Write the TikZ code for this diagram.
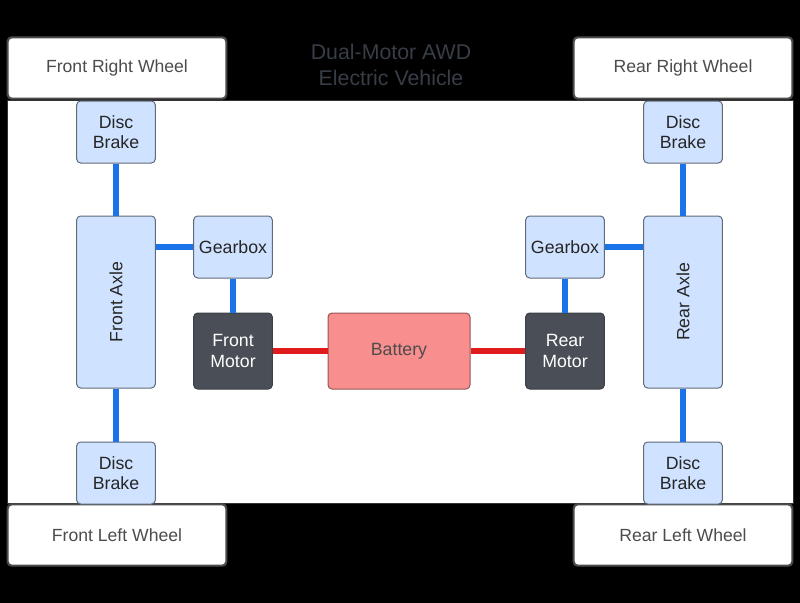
\documentclass[tikz,border=0pt]{standalone}
\usepackage{fontspec}
\setmainfont{Liberation Sans}
\usepackage{graphicx}
\definecolor{partfill}{HTML}{CFE2FF}
\definecolor{partline}{HTML}{5F6B7A}
\definecolor{motorfill}{HTML}{4A4F57}
\definecolor{battfill}{HTML}{F88E8E}
\definecolor{shaftblue}{HTML}{1A73E8}
\definecolor{wirered}{HTML}{E01B1B}
\definecolor{titlegray}{HTML}{383D46}
\begin{document}
\begin{tikzpicture}[x=0.75pt, y=-0.75pt,
        part/.style={draw=partline, fill=partfill, rounded corners=3pt, line width=0.75pt,
            minimum width=59pt, minimum height=46.5pt, align=center, font=\fontsize{13.3}{15.5}\selectfont, text=black!85},
        axle/.style={part, minimum height=129pt},
        motor/.style={part, fill=motorfill, draw=motorfill!80!black, text=white, minimum height=57pt},
        wheel/.style={draw=gray!60!black, fill=white, rounded corners=3pt, line width=1.6pt,
            minimum width=164pt, minimum height=46pt, font=\fontsize{13.2}{15}\selectfont, text=black!70},
        shaft/.style={shaftblue, line width=4.5pt},
        wire/.style={wirered, line width=4.5pt}]
        \useasboundingbox (0,0) rectangle (800,603);
        \fill[black] (0,0) rectangle (800,603);
        
        % chassis
        \draw[fill=white, draw=black!80, line width=0.75pt] (7,100) rectangle (793,503);
        \node[text=titlegray, align=center, font=\fontsize{16}{19.5}\selectfont] (title) at (391,65) {Dual-Motor AWD\\Electric Vehicle};
        
        % wheels
        \node[wheel] (frw) at (117,68) {Front Right Wheel};
        \node[wheel] (rrw) at (683,68) {Rear Right Wheel};
        \node[wheel] (flw) at (117,535) {Front Left Wheel};
        \node[wheel] (rlw) at (683,535) {Rear Left Wheel};
        
        % front side
        \node[part] (fbrakeT) at (116,132) {Disc\\Brake};
        \node[axle] (faxle) at (116,302) {\rotatebox{90}{Front Axle}};
        \node[part] (fbrakeB) at (116,473) {Disc\\Brake};
        \node[part] (fgear) at (233,247) {Gearbox};
        \node[motor] (fmotor) at (233,351) {Front\\Motor};
        
        % battery
        \node[part, fill=battfill, draw=battfill!60!black, text=black!70, minimum width=106.5pt, minimum height=57pt] (batt) at (399,351) {Battery};
        
        % rear side
        \node[motor] (rmotor) at (565,351) {Rear\\Motor};
        \node[part] (rgear) at (565,247) {Gearbox};
        \node[part] (rbrakeT) at (683,132) {Disc\\Brake};
        \node[axle] (raxle) at (683,302) {\rotatebox{90}{Rear Axle}};
        \node[part] (rbrakeB) at (683,473) {Disc\\Brake};
        
        \draw[shaft] (fbrakeT) -- (faxle);
        \draw[shaft] (faxle) -- (fbrakeB);
        \draw[shaft] (fgear.west) -- (fgear.west -| faxle.east);
        \draw[shaft] (fgear) -- (fmotor);
        \draw[shaft] (rbrakeT) -- (raxle);
        \draw[shaft] (raxle) -- (rbrakeB);
        \draw[shaft] (rgear.east) -- (rgear.east -| raxle.west);
        \draw[shaft] (rgear) -- (rmotor);
        \draw[wire] (fmotor) -- (batt);
        \draw[wire] (batt) -- (rmotor);
        
    \end{tikzpicture}
\end{document}
